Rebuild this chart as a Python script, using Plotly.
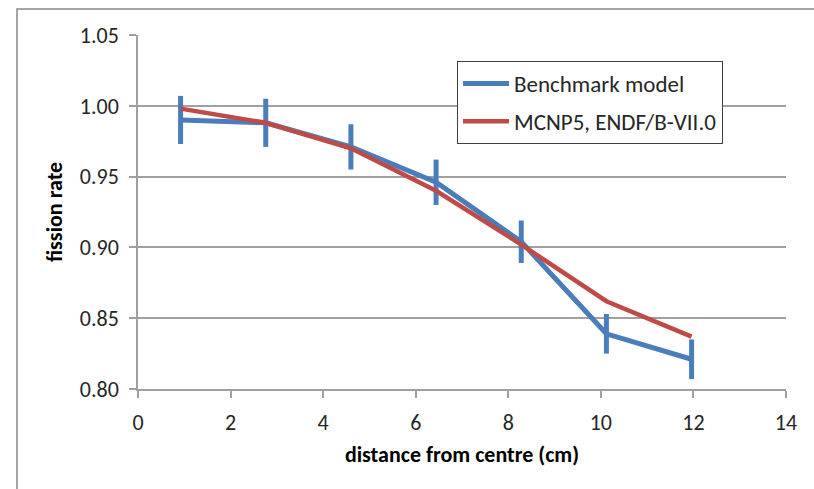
import plotly.graph_objects as go

# data
distance_cm = [0.92, 2.76, 4.60, 6.44, 8.28, 10.12, 11.96]
benchmark = [0.990, 0.988, 0.971, 0.946, 0.904, 0.839, 0.821]
benchmark_err = [0.017, 0.017, 0.016, 0.016, 0.015, 0.014, 0.014]
mcnp5 = [0.998, 0.988, 0.970, 0.940, 0.902, 0.862, 0.837]

x_ticks = [0, 2, 4, 6, 8, 10, 12, 14]
y_ticks = [0.80, 0.85, 0.90, 0.95, 1.00, 1.05]

BLUE = "#4A7EBB"
RED = "#BE4B48"
GRID = "#A0A0A0"
TXT = "#262626"
FONT = "Carlito, Calibri, 'Liberation Sans Narrow', 'Liberation Sans', sans-serif"
FS = 22

fig = go.Figure()
fig.add_trace(go.Scatter(
    x=distance_cm, y=benchmark, mode="lines", name="Benchmark model",
    line=dict(color=BLUE, width=5),
    error_y=dict(type="data", array=benchmark_err, visible=True,
                 color=BLUE, thickness=5, width=0),
    legendgroup="a",
))
fig.add_trace(go.Scatter(
    x=distance_cm, y=mcnp5, mode="lines", name="MCNP5, ENDF/B-VII.0",
    line=dict(color=RED, width=4.5),
    legendgroup="b",
))

axis_common = dict(
    showline=True, linecolor=GRID, linewidth=1.5,
    ticks="outside", ticklen=7, tickcolor=GRID, tickwidth=1.5,
    tickfont=dict(family=FONT, size=FS, color=TXT),
    zeroline=False,
    ticklabelstandoff=6,
)

fig.update_xaxes(
    range=[0, 14], tickvals=x_ticks, ticktext=[str(v) for v in x_ticks],
    showgrid=False,
    title=dict(text="<b>distance from centre (cm)</b>",
               font=dict(family=FONT, size=FS, color="#000000"), standoff=11),
    **axis_common,
)
fig.update_yaxes(
    range=[0.80, 1.05], tickvals=y_ticks, ticktext=[f"{v:.2f}" for v in y_ticks],
    showgrid=True, gridcolor=GRID, gridwidth=1.5,
    title=dict(text="<b>fission rate</b>",
               font=dict(family=FONT, size=FS, color="#000000"), standoff=11),
    **axis_common,
)

fig.update_layout(
    width=814, height=489,
    margin=dict(l=138, r=28, t=35, b=100),
    paper_bgcolor="white", plot_bgcolor="white",
    showlegend=True,
    legend=dict(
        x=0.4923, y=0.9266, xanchor="left", yanchor="top",
        bgcolor="white", bordercolor="#404040", borderwidth=1,
        font=dict(family=FONT, size=23, color=TXT),
        traceorder="grouped", tracegroupgap=5, itemwidth=46,
    ),
    shapes=[dict(
        type="rect", xref="paper", yref="paper",
        x0=-0.1867, x1=1.06, y0=-0.32, y1=1.0734,
        line=dict(color="#888888", width=1.5), fillcolor="rgba(0,0,0,0)",
        layer="below",
    )],
)

fig.write_html("out.html", config={"displayModeBar": False},
               post_script="document.body.style.margin='0';")
